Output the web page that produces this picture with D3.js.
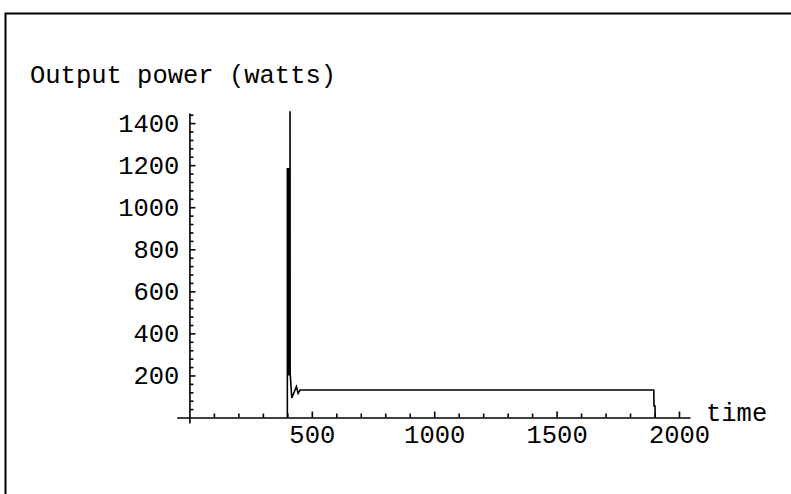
<!DOCTYPE html>
<html>
<head>
<meta charset="utf-8">
<script src="https://cdn.jsdelivr.net/npm/d3@7"></script>
<style>
  html, body { margin: 0; padding: 0; background: #fff; }
  svg { display: block; }
  text { font-family: "Liberation Mono", "Courier New", monospace; fill: #000; }
</style>
</head>
<body>
<svg id="chart" width="791" height="494"></svg>
<script>
// Output power of the source over time (seconds)
const times = [400, 400, 400.5, 401, 401.5, 402, 402.5, 403, 403.5, 404, 404.5, 405, 405.5,
               406, 406.5, 407, 407.5, 408, 408.5, 409, 409.5, 410, 410.5, 411, 411.5,
               412, 418, 437, 444, 452, 1897, 1898, 1902, 1903];
const power = [0, 1187, 200, 1187, 200, 1187, 200, 1187, 200, 1187, 200, 1187, 200,
               1187, 200, 1187, 200, 1187, 200, 1187, 200, 1187, 200, 1456, 202,
               202, 93, 147, 115, 131, 131, 55, 55, 0];

const xMajor = [500, 1000, 1500, 2000];
const xMinor = [100, 200, 300, 400, 600, 700, 800, 900, 1100, 1200, 1300, 1400,
                1600, 1700, 1800, 1900];
const yMajor = [200, 400, 600, 800, 1000, 1200, 1400];
const yMinor = [40, 80, 120, 160, 240, 280, 320, 360, 440, 480, 520, 560, 640, 680, 720, 760,
                840, 880, 920, 960, 1040, 1080, 1120, 1160, 1240, 1280, 1320, 1360, 1440];

const yTitle = "Output power (watts)";
const xTitle = "time";

const svg = d3.select("#chart");

// outer frame
svg.append("rect")
  .attr("x", 5.5).attr("y", 13.5)
  .attr("width", 800).attr("height", 500)
  .attr("fill", "none").attr("stroke", "#000").attr("stroke-width", 2);

const x = d3.scaleLinear().domain([-52, 2045]).range([176.7, 690]);
const y = d3.scaleLinear().domain([-26, 1448]).range([423, 113]);

const x0 = x(0), y0 = y(0);
const fontSize = 25.5;

// y axis (drawn at time 0)
svg.append("g").attr("transform", `translate(${x0},0)`)
  .call(d3.axisLeft(y).tickValues(yMajor).tickSize(-6).tickSizeOuter(0).tickPadding(10)
    .tickFormat(d3.format("d")));
svg.append("g").attr("transform", `translate(${x0},0)`)
  .call(d3.axisLeft(y).tickValues(yMinor).tickSize(-4).tickSizeOuter(0).tickFormat(""))
  .select(".domain").remove();

// x axis (drawn at power 0)
svg.append("g").attr("transform", `translate(0,${y0})`)
  .call(d3.axisBottom(x).tickValues(xMajor).tickSize(-6).tickSizeOuter(0).tickPadding(7)
    .tickFormat(d3.format("d")));
svg.append("g").attr("transform", `translate(0,${y0})`)
  .call(d3.axisBottom(x).tickValues(xMinor).tickSize(-4).tickSizeOuter(0).tickFormat(""))
  .select(".domain").remove();

svg.selectAll(".domain, .tick line").attr("stroke", "#000").attr("stroke-width", 1.6);
svg.selectAll(".tick text")
  .attr("font-family", "Liberation Mono, Courier New, monospace")
  .attr("font-size", fontSize).attr("fill", "#000");

// axis titles
svg.append("text").attr("x", 30).attr("y", 83)
  .attr("font-size", fontSize).text(yTitle);
svg.append("text").attr("x", 706).attr("y", 421)
  .attr("font-size", fontSize).text(xTitle);

// power curve
const line = d3.line().x((d, i) => x(times[i])).y((d, i) => y(power[i]));
svg.append("path")
  .datum(power)
  .attr("d", line)
  .attr("fill", "none")
  .attr("stroke", "#000")
  .attr("stroke-width", 1.6)
  .attr("stroke-linejoin", "miter");
</script>
</body>
</html>
